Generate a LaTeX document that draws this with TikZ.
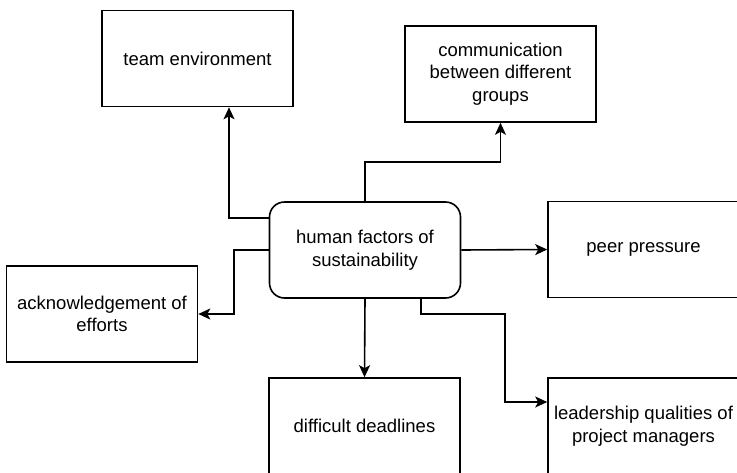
\documentclass[tikz,border=0pt]{standalone}
\usepackage{fontspec}
\setmainfont{Liberation Sans}
\usetikzlibrary{arrows.meta}
\begin{document}
\begin{tikzpicture}[x=1pt,y=-1pt,
  box/.style={draw, line width=1.6pt, minimum width=191pt, minimum height=96pt, inner sep=0pt, align=center, font=\fontsize{18.5}{22.5}\selectfont},
  hub/.style={box, rounded corners=15pt},
  conn/.style={draw, line width=1.6pt, -{Stealth[length=12pt,width=11pt,inset=3pt]}}]
\useasboundingbox (0,0) rectangle (737,472);
\node[box] (team) at (197.5,58.5) {team environment};
\node[box] (comm) at (500.5,74) {communication\\between different\\groups};
\node[hub] (hf) at (365,250) {human factors of\\sustainability};
\node[box] (peer) at (643.5,249.5) {peer pressure};
\node[box] (ack) at (102,314) {acknowledgement of\\efforts};
\node[box] (dd) at (364.5,426) {difficult deadlines};
\node[box] (lead) at (643.5,426) {leadership qualities of\\project managers};
\coordinate (leadin) at (lead.west |- 0,402);
\draw[conn] (hf.west |- 0,218) -| (team.south -| 229,0);
\draw[conn] (hf.north) |- (0,162 -| comm.south) -- (comm.south);
\draw[conn] (hf.east) -- (peer.west);
\draw[conn] (hf.west) -| (234,314) -- (ack.east);
\draw[conn] (hf.south) -- (dd.north);
\draw[conn] (hf.south -| 421,0) |- (505,314) |- (leadin);
\end{tikzpicture}
\end{document}
